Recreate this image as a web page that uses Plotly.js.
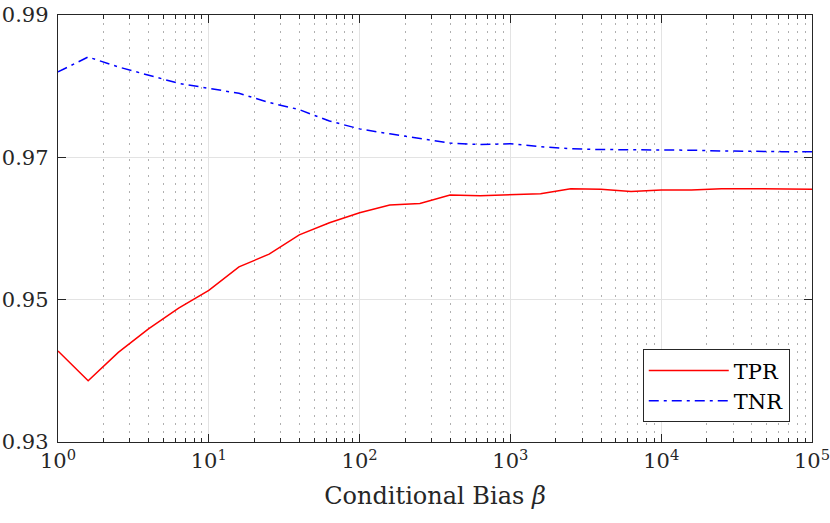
<!DOCTYPE html>
<html>
<head>
<meta charset="utf-8">
<script src="https://cdn.plot.ly/plotly-3.0.1.min.js"></script>
<style>
html,body{margin:0;padding:0;background:#fff;}
#chart{width:830px;height:523px;}
</style>
</head>
<body>
<div id="chart"></div>
<script>
// Conditional bias beta values: 10^(k/5), k = 0..25
const betaExponents = [0,0.2,0.4,0.6,0.8,1,1.2,1.4,1.6,1.8,2,2.2,2.4,2.6,2.8,3,3.2,3.4,3.6,3.8,4,4.2,4.4,4.6,4.8,5];
const tprValues = [0.9428,0.9386,0.9426,0.9459,0.9488,0.9513,0.9546,0.9564,0.9591,0.9608,0.9622,0.9633,0.9635,0.9647,0.9646,0.9647,0.9649,0.9656,0.9655,0.9652,0.9654,0.9654,0.9656,0.9656,0.9656,0.9655];
const tnrValues = [0.9820,0.9841,0.9827,0.9815,0.9804,0.9797,0.9790,0.9777,0.9767,0.9751,0.9740,0.9733,0.9726,0.9720,0.9718,0.9719,0.9715,0.9712,0.9711,0.9711,0.9711,0.9710,0.9709,0.9708,0.9708,0.9708];
const yTickVals = [0.93,0.95,0.97,0.99];
const yTickText = ['0.93','0.95','0.97','0.99'];
const xTickVals = [1,10,100,1000,10000,100000];
const xTickText = ['10<sup>0</sup>','10<sup>1</sup>','10<sup>2</sup>','10<sup>3</sup>','10<sup>4</sup>','10<sup>5</sup>'];

const betas = betaExponents.map(e => Math.pow(10, e));
const serif = 'DejaVu Serif';
const axisColor = '#262626';

const traces = [
  {x: betas, y: tprValues, name: 'TPR', type: 'scatter', mode: 'lines',
   line: {color: '#FF0000', width: 1.5}},
  {x: betas, y: tnrValues, name: 'TNR', type: 'scatter', mode: 'lines',
   line: {color: '#0000FF', width: 1.5, dash: '10px,5px,3px,5px'}}
];

const layout = {
  width: 830, height: 523,
  margin: {l: 58, r: 18, t: 15, b: 81, pad: 0},
  paper_bgcolor: '#fff', plot_bgcolor: '#fff',
  font: {family: serif, color: axisColor, size: 20},
  showlegend: true,
  legend: {x: 0.9705, y: 0.046, xanchor: 'right', yanchor: 'bottom',
    bgcolor: '#fff', bordercolor: axisColor, borderwidth: 1,
    font: {family: serif, size: 21, color: '#000'}, itemwidth: 80,
    tracegroupgap: 0},
  xaxis: {
    type: 'log', range: [0, 5],
    tickvals: xTickVals, ticktext: xTickText,
    ticklabeloverflow: 'allow',
    ticks: 'inside', ticklen: 8, tickcolor: axisColor, tickwidth: 1,
    showline: true, linecolor: axisColor, linewidth: 1.2, mirror: 'ticks',
    showgrid: true, gridcolor: '#e3e3e3', gridwidth: 1,
    zeroline: false,
    tickfont: {family: serif, size: 21, color: axisColor},
    minor: {dtick: 'D1', ticks: 'inside', ticklen: 4, tickcolor: axisColor,
            showgrid: true, gridcolor: '#b0b0b0', griddash: '1.5px,6.5px', gridwidth: 1},
    title: {text: 'Conditional Bias <i>β</i>', font: {family: serif, size: 24, color: axisColor}, standoff: 14}
  },
  yaxis: {
    range: [0.93, 0.99],
    tickvals: yTickVals, ticktext: yTickText,
    ticks: 'inside', ticklen: 8, tickcolor: axisColor, tickwidth: 1,
    showline: true, linecolor: axisColor, linewidth: 1.2, mirror: 'ticks',
    showgrid: true, gridcolor: '#e3e3e3', gridwidth: 1,
    zeroline: false,
    ticklabelstandoff: 4,
    tickfont: {family: serif, size: 21, color: axisColor}
  }
};

Plotly.newPlot('chart', traces, layout, {displayModeBar: false, staticPlot: true});
</script>
</body>
</html>
